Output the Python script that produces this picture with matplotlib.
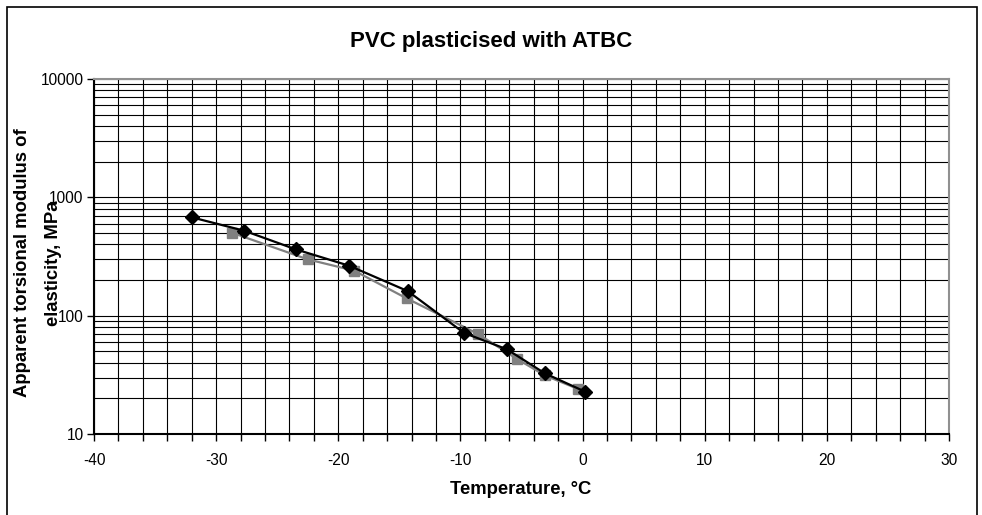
import matplotlib
matplotlib.use("Agg")
import matplotlib.pyplot as plt
from matplotlib.patches import Rectangle
from matplotlib.ticker import FixedLocator, NullFormatter, LogLocator

plt.rcParams['font.family'] = ['Liberation Sans', 'DejaVu Sans']

# Data
temp_black = [-32.0, -27.7, -23.5, -19.1, -14.3, -9.7, -6.2, -3.1, 0.2]
mod_black = [678, 522, 364, 264, 161, 71.4, 52, 32.6, 22.8]
temp_gray = [-28.7, -22.5, -18.7, -14.4, -8.6, -5.4, -3.1, -0.4]
mod_gray = [502, 299, 240, 140, 70.4, 43.3, 31.3, 24.1]

x_major = [-40, -30, -20, -10, 0, 10, 20, 30]
y_major = [10, 100, 1000, 10000]

title = 'PVC plasticised with ATBC'
xlabel = 'Temperature, °C'
ylabel_lines = ['Apparent torsional modulus of', 'elasticity, MPa']

W, H = 982, 515
fig = plt.figure(figsize=(W / 100, H / 100), dpi=100)
ax = fig.add_axes([94 / W, 1 - 434 / H, (949 - 94) / W, (434 - 79) / H])

ax.set_yscale('log')
ax.set_xlim(-40, 30)
ax.set_ylim(10, 10000)

ax.set_xticks(x_major)
ax.set_xticklabels([str(v) for v in x_major])
ax.xaxis.set_minor_locator(FixedLocator(list(range(-40, 31, 2))))
ax.set_yticks(y_major)
ax.set_yticklabels([str(v) for v in y_major])
ax.yaxis.set_minor_locator(LogLocator(base=10, subs=range(2, 10)))
ax.yaxis.set_minor_formatter(NullFormatter())

ax.grid(True, which='both', axis='both', color='black', linewidth=0.8)
ax.set_axisbelow(True)

ax.tick_params(axis='x', which='both', direction='out', length=5, width=1,
               labelsize=11.2, pad=9)
ax.tick_params(axis='y', which='major', direction='out', length=5, width=1,
               labelsize=11.2, pad=2.5)
ax.tick_params(axis='y', which='minor', length=0)

for s in ['left', 'bottom']:
    ax.spines[s].set_color('black')
    ax.spines[s].set_linewidth(1.5)
for s in ['top', 'right']:
    ax.spines[s].set_color('#909090')
    ax.spines[s].set_linewidth(1.5)

ax.plot(temp_gray, mod_gray, color='#808080', linewidth=1.6, marker='s',
        markersize=6.5, markerfacecolor='#808080', markeredgecolor='#808080',
        zorder=3)
ax.plot(temp_black, mod_black, color='black', linewidth=1.6, marker='D',
        markersize=7, markerfacecolor='black', markeredgecolor='black',
        zorder=4)

fig.text(491 / W, 1 - 41 / H, title, ha='center', va='center',
         fontsize=16, fontweight='bold')
fig.text(521 / W, 1 - 489 / H, xlabel, ha='center', va='center',
         fontsize=13.3, fontweight='bold')
for xp, line in zip([23, 53], ylabel_lines):
    fig.text(xp / W, 1 - 263 / H, line, rotation=90, ha='center',
             va='center', fontsize=13.3, fontweight='bold')

fig.patches.append(Rectangle((7 / W, -0.05), (977 - 7) / W, 1 - 7 / H + 0.05,
                             transform=fig.transFigure, fill=False,
                             edgecolor='black', linewidth=1.2))

fig.savefig('out.png', dpi=100)
